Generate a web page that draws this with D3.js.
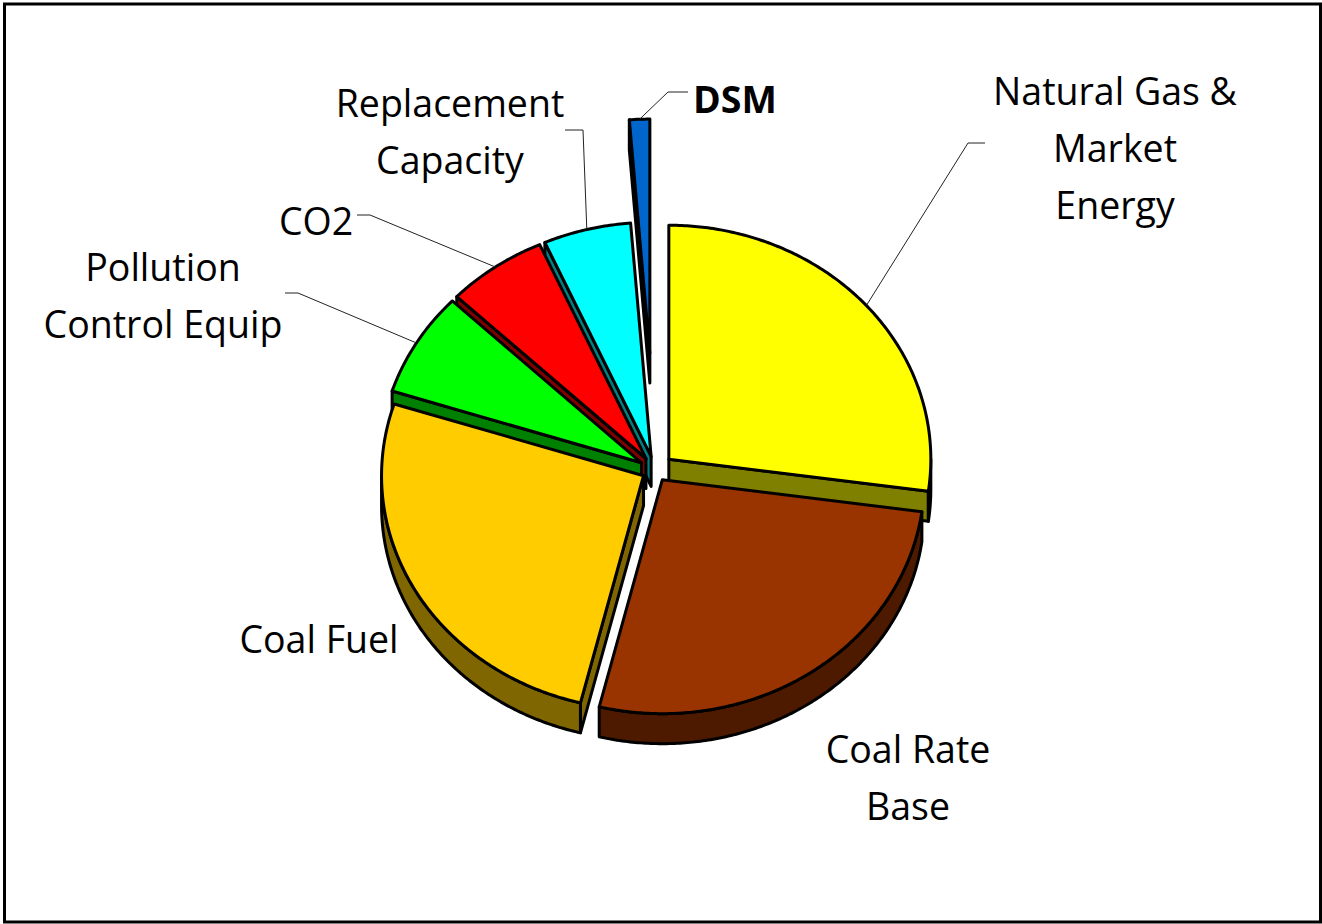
<!DOCTYPE html>
<html>
<head>
<meta charset="utf-8">
<script src="https://cdn.jsdelivr.net/npm/d3@7"></script>
<style>
  body { margin: 0; background: #fff; }
  text { font-family: "Open Sans", "Noto Sans", sans-serif; fill: #000; }
</style>
</head>
<body>
<svg id="chart" width="1322" height="924"></svg>
<script>
// slices, clockwise from 12 o'clock
var categories = ["Natural Gas & Market Energy", "Coal Rate Base", "Coal Fuel", "Pollution Control Equip", "CO2", "Replacement Capacity", "DSM"];
var values = [27.2, 26.7, 26.1, 7.2, 6.2, 5.4, 1.25];
var explode = [0.07, 0.05, 0.05, 0.06, 0.06, 0.06, 0.5];   // explosion, fraction of radius
var labelLines = [["Natural Gas &", "Market", "Energy"], ["Coal Rate", "Base"], ["Coal Fuel"], ["Pollution", "Control Equip"], ["CO2"], ["Replacement", "Capacity"], ["DSM"]];
var topColors = ["#ffff00", "#993300", "#ffcc00", "#00ff00", "#ff0000", "#00ffff", "#0066cc"];
var sideColors = ["#808000", "#4d1a00", "#806600", "#008000", "#800000", "#008080", "#003366"];

// layout
var cx = 655, cy = 470, rx = 262, ry = 234, depth = 30;
var lineH = 57;
var labelPos = [[1115, 105], [908, 763], [319, 653], [163, 281], [316, 235], [450, 117], [735, 113]];
var leaderStart = [[985, 143, -17], null, null, [285, 293, 13], [357, 215, 13], [565, 130, 18], [688, 92, -20]];

var svg = d3.select("#chart");

svg.append("rect")
   .attr("x", 4.5).attr("y", 4)
   .attr("width", 1316).attr("height", 918)
   .attr("fill", "#fff")
   .attr("stroke", "#000")
   .attr("stroke-width", 3);

var x = d3.scaleLinear().domain([-1, 1]).range([cx - rx, cx + rx]);
var y = d3.scaleLinear().domain([-1, 1]).range([cy - ry, cy + ry]);

var arcs = d3.pie().sort(null).startAngle(0).endAngle(2 * Math.PI)(values);

var slices = arcs.map(function(a, i) {
  var m = (a.startAngle + a.endAngle) / 2;
  return {
    i: i, a0: a.startAngle, a1: a.endAngle, mid: m,
    ox: explode[i] * Math.sin(m), oy: -explode[i] * Math.cos(m)
  };
});

function pt(s, t, r, dz) {
  return [x(s.ox + r * Math.sin(t)), y(s.oy - r * Math.cos(t)) + (dz || 0)];
}
function arcPts(s, t0, t1, dz) {
  var n = Math.max(2, Math.ceil((t1 - t0) / 0.01));
  return d3.range(n + 1).map(function(k) { return pt(s, t0 + (t1 - t0) * k / n, 1, dz); });
}
var line = d3.line();

var sideG = svg.append("g");
var topG = svg.append("g");

// side faces, back to front
slices.slice().sort(function(a, b) { return Math.cos(b.mid) - Math.cos(a.mid); }).forEach(function(s) {
  var apex = pt(s, 0, 0), apexD = pt(s, 0, 0, depth);
  var faces = [];
  if (Math.sin(s.a0) < -1e-6) faces.push([apex, pt(s, s.a0, 1), pt(s, s.a0, 1, depth), apexD]);
  if (Math.sin(s.a1) > 1e-6) faces.push([apex, pt(s, s.a1, 1), pt(s, s.a1, 1, depth), apexD]);
  var w0 = Math.max(s.a0, Math.PI / 2), w1 = Math.min(s.a1, 3 * Math.PI / 2);
  if (w1 > w0) {
    faces.push(arcPts(s, w0, w1, 0).concat(arcPts(s, w0, w1, depth).reverse()));
  }
  faces.forEach(function(f) {
    sideG.append("path")
      .attr("d", line(f) + "Z")
      .attr("fill", sideColors[s.i])
      .attr("stroke", "#000")
      .attr("stroke-width", 3)
      .attr("stroke-linejoin", "round");
  });
});

// top faces
topG.selectAll("path")
  .data(slices)
  .enter()
  .append("path")
  .attr("d", function(s) { return line([pt(s, 0, 0)].concat(arcPts(s, s.a0, s.a1, 0))) + "Z"; })
  .attr("fill", function(s) { return topColors[s.i]; })
  .attr("stroke", "#000")
  .attr("stroke-width", 3)
  .attr("stroke-linejoin", "round");

// leader lines
slices.forEach(function(s) {
  var ls = leaderStart[s.i];
  if (!ls) return;
  var end = pt(s, s.mid, 1);
  svg.append("path")
    .attr("d", line([[ls[0], ls[1]], [ls[0] + ls[2], ls[1]], end]))
    .attr("fill", "none")
    .attr("stroke", "#222")
    .attr("stroke-width", 1);
});

// labels
slices.forEach(function(s) {
  var t = svg.append("text")
    .attr("text-anchor", "middle")
    .attr("font-size", 37.5)
    .attr("font-weight", s.i === 6 ? "bold" : "normal");
  labelLines[s.i].forEach(function(l, k) {
    t.append("tspan")
      .attr("x", labelPos[s.i][0])
      .attr("y", labelPos[s.i][1] + k * lineH)
      .text(l);
  });
});
</script>
</body>
</html>
